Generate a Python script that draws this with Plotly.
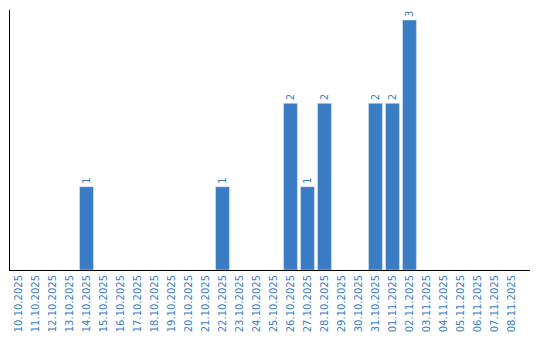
import plotly.graph_objects as go

dates = ["10.10.2025","11.10.2025","12.10.2025","13.10.2025","14.10.2025","15.10.2025",
         "16.10.2025","17.10.2025","18.10.2025","19.10.2025","20.10.2025","21.10.2025",
         "22.10.2025","23.10.2025","24.10.2025","25.10.2025","26.10.2025","27.10.2025",
         "28.10.2025","29.10.2025","30.10.2025","31.10.2025","01.11.2025","02.11.2025",
         "03.11.2025","04.11.2025","05.11.2025","06.11.2025","07.11.2025","08.11.2025"]
counts = [0,0,0,0,1,0,0,0,0,0,0,0,1,0,0,0,2,1,2,0,0,2,2,3,0,0,0,0,0,0]

blue = "#3b7dc4"
labels = [str(v) if v else "" for v in counts]

fig = go.Figure(go.Bar(
    x=list(range(len(dates))), y=counts, marker_color=blue, text=labels,
    textposition="outside", textangle=-90,
    textfont=dict(color=blue, size=10, family="DejaVu Sans"),
    cliponaxis=False, width=0.82,
))
fig.update_layout(
    width=540, height=340, margin=dict(l=10, r=10, t=10, b=70, autoexpand=False),
    plot_bgcolor="white", paper_bgcolor="white", showlegend=False,
    xaxis=dict(tickmode="array", tickvals=list(range(len(dates))), ticktext=dates,
               tickangle=-90, range=[-0.5, 30.09], showgrid=False, zeroline=False,
               showline=True, linecolor="black", linewidth=1, ticks="", automargin=False,
               tickfont=dict(color=blue, size=10, family="DejaVu Sans")),
    yaxis=dict(range=[0, 3.12], showgrid=False, zeroline=False, showticklabels=False,
               showline=True, linecolor="black", linewidth=1, ticks="", automargin=False),
)
fig.write_html("out.html")
